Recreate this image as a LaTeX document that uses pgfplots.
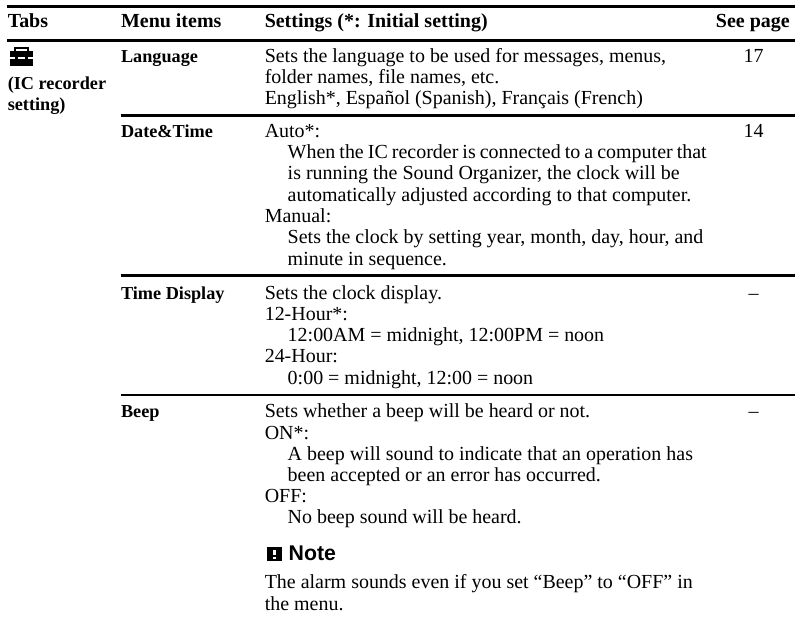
\documentclass[border=0pt]{standalone}
\usepackage{pgfplots}
\pgfplotsset{compat=1.18}
\usepackage{fontspec}
\setmainfont{Liberation Serif}
\newfontfamily\hv{Liberation Sans}
\newcommand{\fz}{\fontsize{15pt}{17pt}\selectfont}
\newcommand{\fb}{\fontsize{13.7pt}{17pt}\selectfont}
\newcommand{\T}[3]{\node[anchor=base west,inner sep=0pt,font=\fz] at (axis cs:#1,#2) {#3};}
\newcommand{\B}[3]{\node[anchor=base west,inner sep=0pt,font=\fz\bfseries] at (axis cs:#1,#2) {#3};}
\newcommand{\M}[3]{\node[anchor=base west,inner sep=0pt,font=\fb\bfseries] at (axis cs:#1,#2) {#3};}
\newcommand{\C}[3]{\node[anchor=base,inner sep=0pt,font=\fz] at (axis cs:#1,#2) {#3};}
\begin{document}
\begin{tikzpicture}
\begin{axis}[x=0.75pt,y=0.75pt,xmin=0,xmax=796,ymin=0,ymax=621,y dir=reverse,hide axis,clip=false,scale only axis,width=597pt,height=465.75pt]
\addplot[draw=none,forget plot] coordinates {(0,0)(796,621)};
% rules
\addplot[black,line width=2.2pt,forget plot] coordinates {(7,6.5)(796,6.5)};
\addplot[black,line width=1.9pt,forget plot] coordinates {(7,40.5)(796,40.5)};
\addplot[black,line width=1.9pt,forget plot] coordinates {(121,115.7)(796,115.7)};
\addplot[black,line width=1.9pt,forget plot] coordinates {(121,276)(796,276)};
\addplot[black,line width=1.9pt,forget plot] coordinates {(121,395.7)(796,395.7)};
% toolbox icon
\addplot[fill=black,draw=none,forget plot] coordinates {(10,51)(33,51)(33,57.5)(10,57.5)} --cycle;
\addplot[fill=black,draw=none,forget plot] coordinates {(10,59.5)(33,59.5)(33,66.5)(10,66.5)} --cycle;
\addplot[fill=black,draw=none,forget plot] coordinates {(15,56)(18,56)(18,61)(15,61)} --cycle;
\addplot[fill=black,draw=none,forget plot] coordinates {(25,56)(28,56)(28,61)(25,61)} --cycle;
\addplot[black,line width=1.3pt,forget plot] coordinates {(15,51)(15,48)(28,48)(28,51)};
% note icon
\addplot[fill=black,draw=none,forget plot] coordinates {(267,548)(283,548)(283,562)(267,562)} --cycle;
\addplot[white,line width=2.6pt,forget plot] coordinates {(275,551)(275,556.5)};
\addplot[white,line width=2.6pt,forget plot] coordinates {(275,558)(275,560.5)};
% header
\B{7.5}{28}{Tabs}
\B{121}{28}{Menu items}
\B{265}{28}{Settings (*: Initial setting)}
\B{717}{28}{See page}
% tab
\M{7.5}{90}{(IC recorder}
\M{7.5}{111}{setting)}
% menu items
\M{121}{63}{Language}
\M{121}{138}{Date\&Time}
\M{121}{300}{Time Display}
\M{121}{418}{Beep}
% pages
\C{755}{63}{17}
\C{755}{138}{14}
\C{755}{300}{–}
\C{755}{418}{–}
% settings
\T{265}{63}{Sets the language to be used for messages, menus,}
\T{265}{84}{folder names, file names, etc.}
\T{265}{105}{English*, Español (Spanish), Français (French)}
\T{265}{138}{Auto*:}
\T{288}{159}{\spaceskip=3.05pt When the IC recorder is connected to a computer that}
\T{288}{180}{is running the Sound Organizer, the clock will be}
\T{288}{202}{automatically adjusted according to that computer.}
\T{265}{223}{Manual:}
\T{288}{244}{Sets the clock by setting year, month, day, hour, and}
\T{288}{266}{minute in sequence.}
\T{265}{300}{Sets the clock display.}
\T{265}{321}{12-Hour*:}
\T{288}{342.5}{12:00AM = midnight, 12:00PM = noon}
\T{265}{363.5}{24-Hour:}
\T{288}{385}{0:00 = midnight, 12:00 = noon}
\T{265}{418}{Sets whether a beep will be heard or not.}
\T{265}{440}{ON*:}
\T{288}{461}{A beep will sound to indicate that an operation has}
\T{288}{482}{been accepted or an error has occurred.}
\T{265}{503.5}{OFF:}
\T{288}{524.5}{No beep sound will be heard.}
\node[anchor=base west,inner sep=0pt,font=\hv\bfseries\fontsize{16pt}{18pt}\selectfont] at (axis cs:289,562) {Note};
\T{265}{590}{The alarm sounds even if you set “Beep” to “OFF” in}
\T{265}{612}{the menu.}
\end{axis}
\end{tikzpicture}
\end{document}
